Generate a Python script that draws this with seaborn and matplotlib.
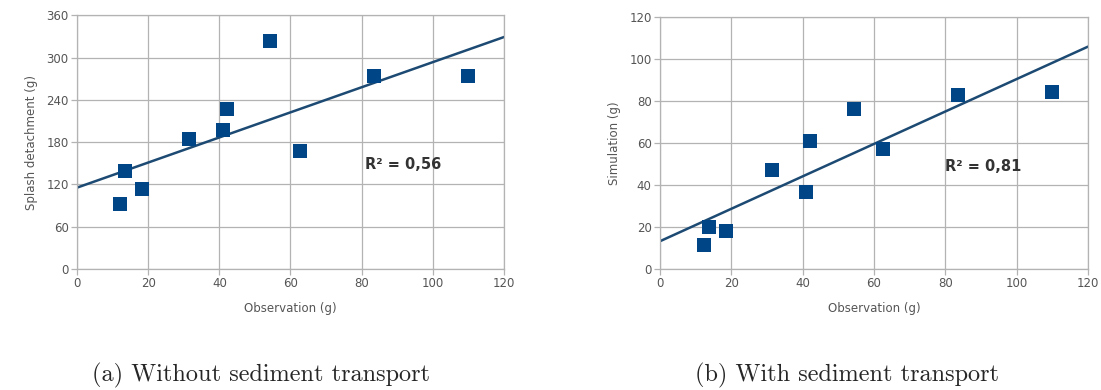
import numpy as np
import pandas as pd
import matplotlib
matplotlib.use("Agg")
import matplotlib.pyplot as plt
import seaborn as sns

# ---- data ----
observation = [12.2, 13.6, 18.4, 31.5, 41.0, 42.1, 54.3, 62.6, 83.6, 109.9]
splash_detachment = [92.6, 138.4, 112.9, 183.8, 197.5, 227.7, 323.6, 166.8, 273.5, 273.1]
simulation = [11.4, 20.1, 18.2, 47.2, 36.6, 60.9, 76.0, 57.2, 82.8, 84.1]

r2_labels = ["R² = 0,56", "R² = 0,81"]
captions = ["(a) Without sediment transport", "(b) With sediment transport"]
ylabels = ["Splash detachment (g)", "Simulation (g)"]
xticks = [0, 20, 40, 60, 80, 100, 120]
yticks_a = [0, 60, 120, 180, 240, 300, 360]
yticks_b = [0, 20, 40, 60, 80, 100, 120]

df = pd.DataFrame({"obs": observation, "splash": splash_detachment, "sim": simulation})

sns.set_style("white")
plt.rcParams["font.family"] = ["DejaVu Sans"]

point_color = "#004586"
line_color = "#1c4a73"
grid_color = "#b3b3b3"
text_color = "#555555"

fig = plt.figure(figsize=(11.01, 3.90), dpi=100)
ax_a = fig.add_axes([0.0699, 0.310, 0.3879, 0.651])
ax_b = fig.add_axes([0.5995, 0.310, 0.3887, 0.647])

panels = [
    (ax_a, "splash", yticks_a, (81, 149)),
    (ax_b, "sim", yticks_b, (80, 48.8)),
]

for i, (ax, col, yticks, r2_pos) in enumerate(panels):
    ax.set_xlim(0, 120)
    ax.set_ylim(0, yticks[-1])
    sns.regplot(data=df, x="obs", y=col, ax=ax, ci=None, truncate=False,
                scatter=False, line_kws={"color": line_color, "lw": 1.8, "zorder": 2})
    sns.scatterplot(data=df, x="obs", y=col, ax=ax, marker="s", s=95,
                    color=point_color, edgecolor=point_color, linewidth=0, zorder=3)
    ax.set_xticks(xticks)
    ax.set_yticks(yticks)
    ax.grid(True, color=grid_color, lw=0.9)
    ax.set_axisbelow(True)
    for s in ax.spines.values():
        s.set_visible(True)
        s.set_color(grid_color)
        s.set_linewidth(0.9)
    ax.tick_params(axis="both", colors=text_color, labelsize=8.5, length=4,
                   width=0.9, color=grid_color, pad=2, left=True, bottom=True)
    ax.set_xlabel("Observation (g)", color=text_color, fontsize=8.5, labelpad=8)
    ax.set_ylabel(ylabels[i], color=text_color, fontsize=8.5, labelpad=6)
    ax.text(r2_pos[0], r2_pos[1], r2_labels[i], fontsize=10.5, fontweight="heavy",
            color="#333333", va="center", ha="left")

fig.text(0.237, 0.038, captions[0], fontsize=17.5, family="cmr10", ha="center", va="center")
fig.text(0.769, 0.038, captions[1], fontsize=17.5, family="cmr10", ha="center", va="center")

fig.savefig("out.png", dpi=100)
